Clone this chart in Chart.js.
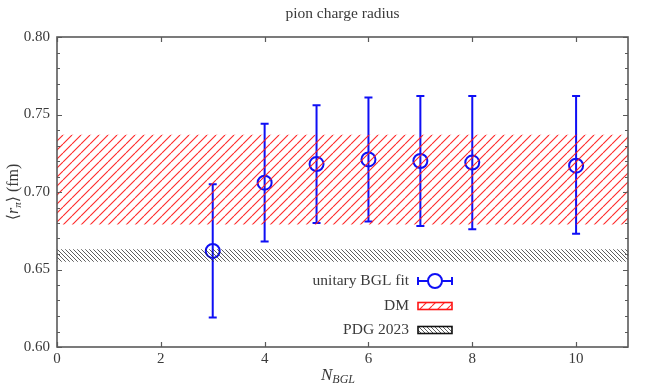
<!DOCTYPE html>
<html>
<head>
<meta charset="utf-8">
<script src="https://cdn.jsdelivr.net/npm/chart.js@4"></script>
<style>
  html, body { margin: 0; padding: 0; background: #fff; }
  #wrap { width: 650px; height: 390px; }
</style>
</head>
<body>
<div id="wrap"><canvas id="rChart" width="650" height="390"></canvas></div>
<script>
// values
const nBgl    = [3, 4, 5, 6, 7, 8, 10];
const rCentre = [0.662, 0.706, 0.718, 0.721, 0.720, 0.719, 0.717];
const rUpper  = [0.705, 0.744, 0.756, 0.761, 0.762, 0.762, 0.762];
const rLower  = [0.619, 0.668, 0.680, 0.681, 0.678, 0.676, 0.673];

const dmBand  = [0.679, 0.737];   // [low, high]
const pdgBand = [0.655, 0.663];

const xTicks = [0, 2, 4, 6, 8, 10];
const yTicks = [0.60, 0.65, 0.70, 0.75, 0.80];
const yMinor = [0.61,0.62,0.63,0.64,0.66,0.67,0.68,0.69,0.71,0.72,0.73,0.74,0.76,0.77,0.78,0.79];

const legendLabels = ['unitary BGL fit', 'DM', 'PDG 2023'];

const BLUE  = 'rgb(15,15,245)';
const FRAME = '#5a5a5a';
const TEXT  = '#3a3a3a';
const SERIF = '"Liberation Serif", "DejaVu Serif", serif';

/* ───────── hatch patterns ───────── */

function hatch(step, color, width, rising) {
  const c = document.createElement('canvas');
  c.width = step; c.height = step;
  const g = c.getContext('2d');
  g.strokeStyle = color;
  g.lineWidth = width;
  g.beginPath();
  for (let k = -1; k <= 1; k++) {
    if (rising) {
      g.moveTo(k * step, step); g.lineTo(k * step + step, 0);
    } else {
      g.moveTo(k * step, 0); g.lineTo(k * step + step, step);
    }
  }
  g.stroke();
  return g.createPattern(c, 'repeat');
}

const ctx = document.getElementById('rChart').getContext('2d');
const redHatch   = hatch(9, 'rgba(255,30,30,0.95)', 1.1, true);
const blackHatch = hatch(4, 'rgba(30,30,30,0.8)', 0.9, false);

function bandSets(band, pattern) {
  return [
    { type: 'line', data: [{x: 0, y: band[1]}, {x: 11, y: band[1]}],
      borderWidth: 0, pointRadius: 0, fill: false, order: 1 },
    { type: 'line', data: [{x: 0, y: band[0]}, {x: 11, y: band[0]}],
      borderWidth: 0, pointRadius: 0, fill: '-1', backgroundColor: pattern, order: 1 }
  ];
}

/* ───────── frame, ticks, error bars, titles, legend ───────── */

const decor = {
  id: 'decor',
  beforeDatasetsDraw(chart) {
    const { ctx: g, scales: { x, y } } = chart;
    g.save();
    g.strokeStyle = BLUE;
    g.lineWidth = 2;
    nBgl.forEach((n, i) => {
      const px = x.getPixelForValue(n);
      const top = y.getPixelForValue(rUpper[i]);
      const bot = y.getPixelForValue(rLower[i]);
      g.beginPath();
      g.moveTo(px, top); g.lineTo(px, bot);
      g.moveTo(px - 4, top); g.lineTo(px + 4, top);
      g.moveTo(px - 4, bot); g.lineTo(px + 4, bot);
      g.stroke();
    });
    g.restore();
  },
  afterDraw(chart) {
    const { ctx: g, chartArea: a, scales: { x, y } } = chart;
    g.save();

    // ticks (inside, mirrored)
    g.strokeStyle = FRAME;
    g.lineWidth = 1.2;
    g.beginPath();
    xTicks.forEach(v => {
      const px = Math.round(x.getPixelForValue(v)) + 0.5;
      g.moveTo(px, a.bottom); g.lineTo(px, a.bottom - 5);
      g.moveTo(px, a.top);    g.lineTo(px, a.top + 5);
    });
    yTicks.forEach(v => {
      const py = Math.round(y.getPixelForValue(v)) + 0.5;
      g.moveTo(a.left, py);  g.lineTo(a.left + 5, py);
      g.moveTo(a.right, py); g.lineTo(a.right - 5, py);
    });
    yMinor.forEach(v => {
      const py = Math.round(y.getPixelForValue(v)) + 0.5;
      g.moveTo(a.left, py);  g.lineTo(a.left + 3, py);
      g.moveTo(a.right, py); g.lineTo(a.right - 3, py);
    });
    g.stroke();

    // frame
    g.lineWidth = 1.6;
    g.strokeRect(a.left, a.top, a.right - a.left, a.bottom - a.top);

    // title
    g.fillStyle = TEXT;
    g.font = '15.5px ' + SERIF;
    g.textAlign = 'center';
    g.textBaseline = 'alphabetic';
    g.fillText('pion charge radius', (a.left + a.right) / 2, 18);

    // x title  N_BGL
    g.textAlign = 'left';
    g.font = 'italic 17px ' + SERIF;
    const nW = g.measureText('N').width;
    g.font = 'italic 12px ' + SERIF;
    const sW = g.measureText('BGL').width;
    const x0 = 338 - (nW + sW) / 2;
    g.font = 'italic 17px ' + SERIF;
    g.fillText('N', x0, 380);
    g.font = 'italic 12px ' + SERIF;
    g.fillText('BGL', x0 + nW, 383);

    // y title  ⟨r_π⟩ (fm)
    g.save();
    g.translate(18, 192);
    g.rotate(-Math.PI / 2);
    const parts = [
      ['\u27E8', '16px ' + SERIF, 0],
      ['r', 'italic 16px ' + SERIF, 0],
      ['\u03C0', 'italic 11px ' + SERIF, 3],
      ['\u27E9', '16px ' + SERIF, 0],
      [' (fm)', '16px ' + SERIF, 0]
    ];
    let tw = 0;
    parts.forEach(p => { g.font = p[1]; tw += g.measureText(p[0]).width; });
    let cx = -tw / 2;
    parts.forEach(p => {
      g.font = p[1];
      g.fillText(p[0], cx, p[2]);
      cx += g.measureText(p[0]).width;
    });
    g.restore();

    // legend
    const textRight = 409;
    const rowsY = [281, 306, 330];
    g.font = '15.5px ' + SERIF;
    g.textAlign = 'right';
    g.textBaseline = 'middle';
    legendLabels.forEach((t, i) => g.fillText(t, textRight, rowsY[i]));

    // unitary BGL fit symbol
    g.strokeStyle = BLUE;
    g.lineWidth = 2;
    g.beginPath();
    g.moveTo(418, rowsY[0]); g.lineTo(452, rowsY[0]);
    g.moveTo(418, rowsY[0] - 4); g.lineTo(418, rowsY[0] + 4);
    g.moveTo(452, rowsY[0] - 4); g.lineTo(452, rowsY[0] + 4);
    g.stroke();
    g.fillStyle = '#fff';
    g.beginPath();
    g.arc(435, rowsY[0], 7, 0, 2 * Math.PI);
    g.fill();
    g.stroke();

    // DM box
    g.fillStyle = redHatch;
    g.fillRect(418, rowsY[1] - 3.5, 34, 7);
    g.strokeStyle = 'rgb(255,20,20)';
    g.lineWidth = 1.6;
    g.strokeRect(418, rowsY[1] - 3.5, 34, 7);

    // PDG box
    g.fillStyle = blackHatch;
    g.fillRect(418, rowsY[2] - 3.5, 34, 7);
    g.strokeStyle = '#111';
    g.strokeRect(418, rowsY[2] - 3.5, 34, 7);

    g.restore();
  }
};

new Chart(ctx, {
  data: {
    datasets: [
      {
        type: 'scatter',
        label: legendLabels[0],
        data: nBgl.map((n, i) => ({ x: n, y: rCentre[i] })),
        pointStyle: 'circle',
        pointRadius: 7,
        pointBorderWidth: 2,
        borderColor: BLUE,
        backgroundColor: 'rgba(0,0,0,0)',
        order: 2
      },
      ...bandSets(dmBand, redHatch),
      ...bandSets(pdgBand, blackHatch)
    ]
  },
  options: {
    responsive: false,
    animation: false,
    layout: { padding: { top: 37, right: 22, bottom: 0, left: 0 } },
    plugins: {
      legend: { display: false },
      tooltip: { enabled: false },
      title: { display: false }
    },
    scales: {
      x: {
        type: 'linear',
        min: 0, max: 11,
        afterBuildTicks: s => { s.ticks = xTicks.map(v => ({ value: v })); },
        afterFit: s => { s.height = 43; },
        grid: { drawOnChartArea: false, drawTicks: false },
        border: { display: false },
        ticks: { padding: 3, color: TEXT, font: { family: SERIF, size: 15 }, maxRotation: 0 }
      },
      y: {
        type: 'linear',
        min: 0.60, max: 0.80,
        afterBuildTicks: s => { s.ticks = yTicks.map(v => ({ value: v })); },
        afterFit: s => { s.width = 57; },
        grid: { drawOnChartArea: false, drawTicks: false },
        border: { display: false },
        ticks: {
          padding: 7, color: TEXT, font: { family: SERIF, size: 15 },
          callback: v => v.toFixed(2)
        }
      }
    }
  },
  plugins: [decor]
});
</script>
</body>
</html>
